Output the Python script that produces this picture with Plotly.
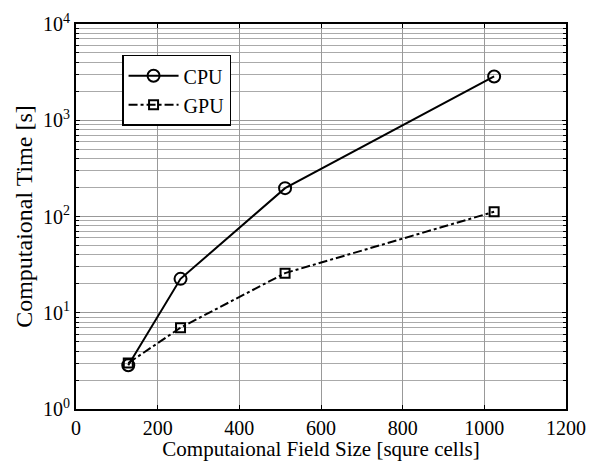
import plotly.graph_objects as go

field_size = [128, 256, 512, 1024]
cpu_time = [2.85, 22.5, 197, 2850]
gpu_time = [3.0, 7.0, 25.8, 112]

x_ticks = [0, 200, 400, 600, 800, 1000, 1200]
y_ticks = [1, 10, 100, 1000, 10000]
y_ticktext = ["10<sup>0</sup>", "10<sup>1</sup>", "10<sup>2</sup>", "10<sup>3</sup>", "10<sup>4</sup>"]

font_family = "Liberation Serif, Times New Roman, serif"

fig = go.Figure()
fig.add_trace(go.Scatter(
    x=field_size, y=cpu_time, name="CPU", mode="lines+markers",
    line=dict(color="black", width=2, dash="solid"),
    marker=dict(symbol="circle-open", size=12, color="black", line=dict(width=2)),
))
fig.add_trace(go.Scatter(
    x=field_size, y=gpu_time, name="GPU", mode="lines+markers",
    line=dict(color="black", width=2, dash="dashdot"),
    marker=dict(symbol="square-open", size=9, color="black", line=dict(width=2)),
))

# page body has an 8px default margin, so the figure is 8px smaller
fig.update_layout(
    width=591, height=453,
    margin=dict(l=68, r=33, t=16, b=52),
    paper_bgcolor="white", plot_bgcolor="white",
    font=dict(family=font_family, size=20, color="black"),
    showlegend=True,
    legend=dict(
        x=0.094, y=0.92, xanchor="left", yanchor="top",
        bgcolor="white", bordercolor="black", borderwidth=1.5,
        font=dict(family=font_family, size=20, color="black"),
        itemwidth=50, tracegroupgap=0,
    ),
)

fig.update_xaxes(
    range=[0, 1200], tickvals=x_ticks,
    showgrid=True, gridcolor="#999999", gridwidth=1,
    ticks="inside", ticklen=4, tickcolor="black",
    showline=True, linecolor="black", linewidth=2, mirror="allticks",
    zeroline=False, automargin=False,
    title=dict(text="Computaional Field Size [squre cells]", font=dict(size=21), standoff=2),
    tickfont=dict(size=20),
)
fig.update_yaxes(
    type="log", range=[0, 4], tickvals=y_ticks, ticktext=y_ticktext,
    showgrid=True, gridcolor="#999999", gridwidth=1,
    ticks="inside", ticklen=4, tickcolor="black",
    showline=True, linecolor="black", linewidth=2, mirror="allticks",
    zeroline=False, automargin=False,
    minor=dict(dtick="D1", showgrid=True, gridcolor="#aaaaaa", gridwidth=1,
               ticks="inside", ticklen=3, tickcolor="black"),
    title=dict(text="Computaional Time [s]", font=dict(size=24), standoff=4),
    tickfont=dict(size=20),
)

fig.write_html("out.html")
